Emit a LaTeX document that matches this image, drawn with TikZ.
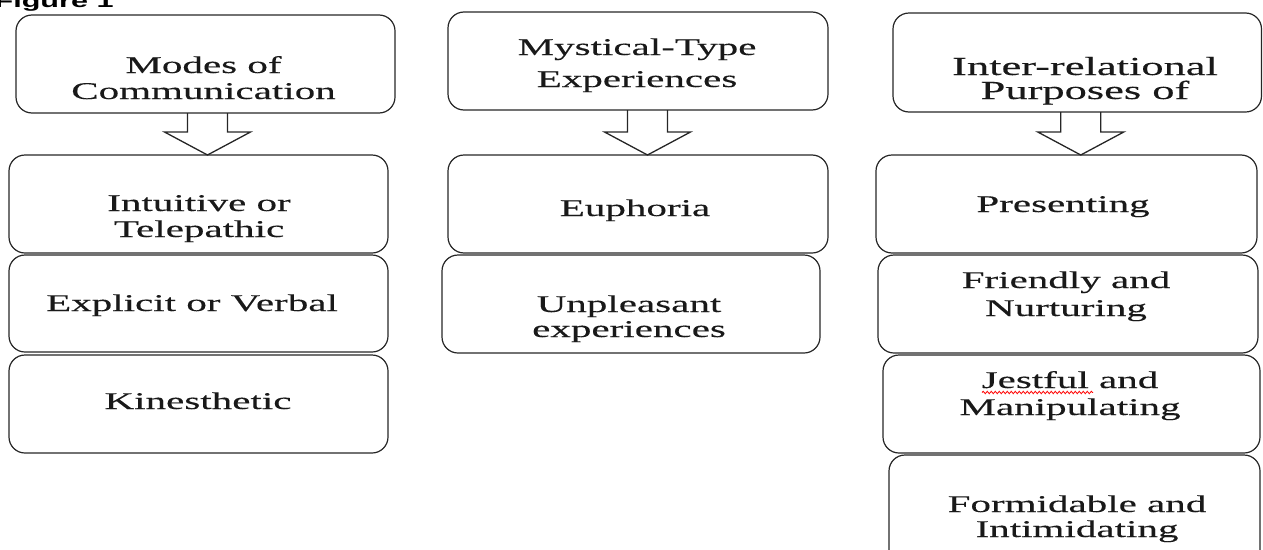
\documentclass[tikz,border=0pt]{standalone}
\usepackage{fontspec}
\newfontfamily\boxfont[FakeStretch=1.71,FakeBold=0.3]{Liberation Serif}
\newfontfamily\figfont[FakeStretch=1.7]{Liberation Sans}
\usetikzlibrary{calc,decorations.pathmorphing}
\newcommand\btext[2]{\vtop{\baselineskip=#1pt\lineskiplimit=-100pt\halign{\hfil##\hfil\cr#2\crcr}}}
\newcommand\boxat[5]{\node[box, minimum width={#4-#2}, minimum height={#5-#3}] (#1) at ({(#2+#4)/2},{(#3+#5)/2}) {};}
\newcommand\blockarrow[3]{\draw[blockarr] let \p1=($(#1.south)+(#3,0)$), \p2=(#2.north) in
  (\x1-20pt,\y1) -- (\x1-20pt,\y2+23pt) -- (\x1-43pt,\y2+23pt) -- (\x1,\y2)
  -- (\x1+43pt,\y2+23pt) -- (\x1+20pt,\y2+23pt) -- (\x1+20pt,\y1);}
\tikzset{
  box/.style={draw=black!85, line width=1.2pt, rounded corners=16pt, inner sep=0pt, outer sep=0pt},
  btxt/.style={anchor=base, inner sep=0pt, text=black!90, font=\boxfont\fontsize{24}{26}\selectfont},
  bigtxt/.style={btxt, font=\boxfont\fontsize{26}{28}\selectfont},
  blockarr/.style={draw=black!85, line width=1.3pt, line join=miter}
}
\begin{document}
\begin{tikzpicture}[x=1pt,y=-1pt]
\useasboundingbox (0,0) rectangle (1263,549);
\node[anchor=base west, inner sep=0pt, font=\figfont\bfseries\fontsize{18}{20}\selectfont] (fig) at (-5.6,7) {Figure 1};
% column 1
\boxat{mc}{16}{15}{395}{113}
\boxat{it}{9}{155}{388}{253}
\boxat{ev}{9}{255}{388}{352}
\boxat{ki}{9}{355}{388}{453}
% column 2
\boxat{my}{448}{12}{828}{110}
\boxat{eu}{448}{155}{828}{253}
\boxat{un}{442}{255}{820}{353}
% column 3
\boxat{ir}{893}{13}{1261.5}{112}
\boxat{pr}{876}{155}{1257}{253}
\boxat{fn}{878}{255}{1258}{353}
\boxat{jm}{883}{355}{1260}{453}
\boxat{fi}{889}{455}{1260}{565}
% arrows
\blockarrow{mc}{it}{2}
\blockarrow{my}{eu}{9.5}
\blockarrow{ir}{pr}{3.5}
% texts
\node[btxt] (tmc) at (203.5,73) {\btext{26}{Modes of\cr Communication}};
\node[btxt] (tit) at (199,211) {\btext{26}{Intuitive or\cr Telepathic}};
\node[btxt] (tev) at (192,311) {Explicit or Verbal};
\node[btxt] (tki) at (198,409) {Kinesthetic};
\node[btxt] (tmy) at (637,55) {\btext{32}{Mystical-Type\cr Experiences}};
\node[btxt] (teu) at (635,216) {Euphoria};
\node[btxt] (tun) at (629,312) {\btext{25}{Unpleasant\cr experiences}};
\node[bigtxt] (tir) at (1085,75) {\btext{24}{Inter-relational\cr Purposes of}};
\node[btxt] (tpr) at (1063,212) {Presenting};
\node[btxt] (tfn) at (1066,288) {\btext{28}{Friendly and\cr Nurturing}};
\node[btxt] (tjm) at (1070,388) {\btext{27}{Jestful and\cr Manipulating}};
\node[btxt] (tfi) at (1077,512) {\btext{25}{Formidable and\cr Intimidating}};
\draw[red, line width=0.8pt, decorate, decoration={snake, amplitude=1.2pt, segment length=4pt}] (982,392.5) -- (1093,392.5);
\end{tikzpicture}
\end{document}
